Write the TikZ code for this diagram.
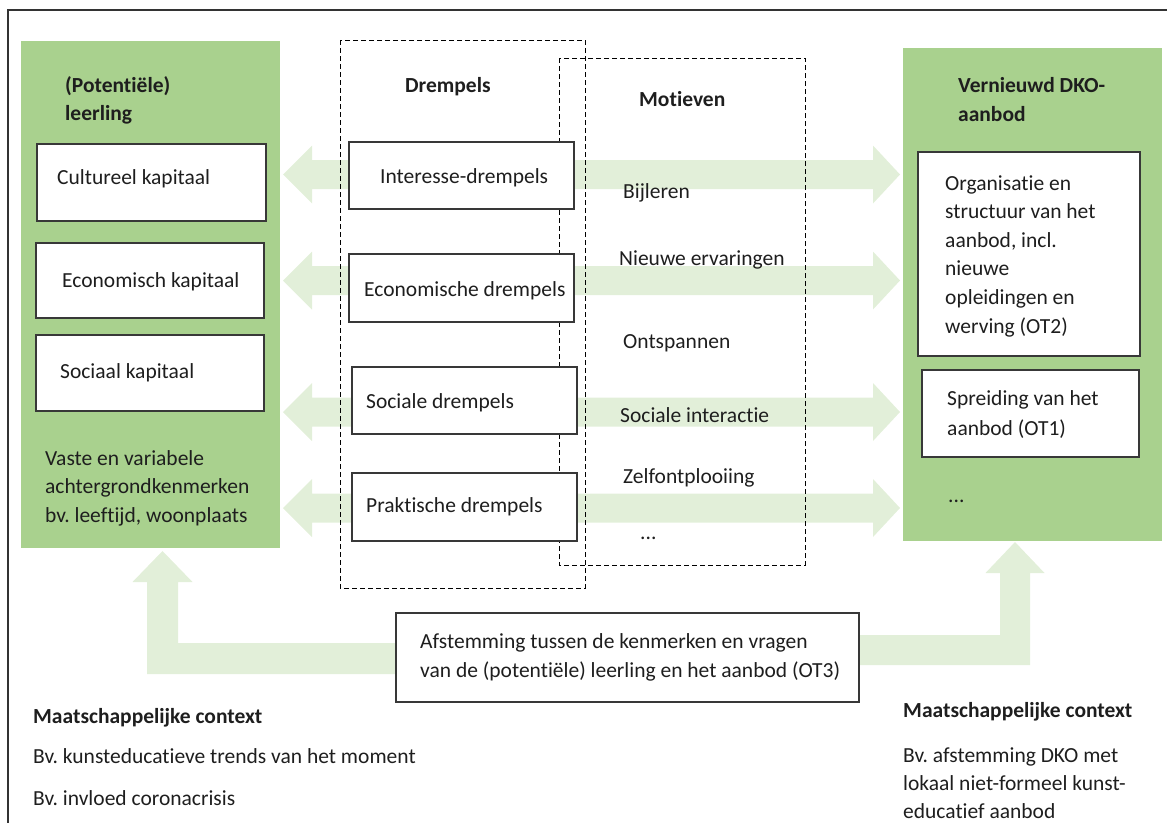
\documentclass[tikz,border=0pt]{standalone}
\usepackage{fontspec}
\setmainfont{Carlito}[Ligatures=NoCommon]
\frenchspacing
\definecolor{gbox}{HTML}{A9D18E}
\definecolor{garrow}{HTML}{E2EFD9}
\definecolor{ink}{HTML}{1E1E1E}
\begin{document}
\begin{tikzpicture}[x=1pt,y=-1pt,
  txt/.style={anchor=base west, inner sep=0pt, text=ink, align=left, font=\fontsize{21.5}{28.6}\selectfont},
  hd/.style={txt, font=\fontsize{21.5}{28.6}\selectfont\bfseries},
  wbox/.style={draw=black!78, line width=1.3pt, fill=white, anchor=north west, inner sep=0pt, outer sep=0pt},
  gpanel/.style={fill=gbox, anchor=north west, inner sep=0pt, outer sep=0pt},
  dbox/.style={draw=black, line width=1pt, dash pattern=on 5pt off 3pt},
  barrow/.style={fill=garrow}]
\useasboundingbox (0,0) rectangle (1167,822);
\clip (0,0) rectangle (1167,822);
% outer frame
\draw[black!80, line width=1.3pt] (8,860) -- (8,10) -- (1200,10);
% green panels
\node[gpanel, minimum width=259pt, minimum height=507pt] (lp) at (21,41) {};
\node[gpanel, minimum width=259pt, minimum height=493pt] (rp) at (903,48) {};
% double block arrows
\newcommand\dblarr[1]{\fill[barrow] (283,#1) -- (312,#1-29) -- (312,#1-14.5) -- (873,#1-14.5) -- (873,#1-29) -- (900,#1) -- (873,#1+29) -- (873,#1+14.5) -- (312,#1+14.5) -- (312,#1+29) -- cycle;}
\dblarr{174.5}
\dblarr{280.5}
\dblarr{412}
\dblarr{508}
% bent arrows
\fill[barrow] (400,643) -- (178,643) -- (178,582) -- (192.5,582) -- (162.5,551) -- (132.5,582) -- (147,582) -- (147,674) -- (400,674) -- cycle;
\fill[barrow] (855,635) -- (1000,635) -- (1000,573) -- (985.5,573) -- (1015,542) -- (1044.5,573) -- (1030,573) -- (1030,665) -- (855,665) -- cycle;
% dashed groups
\draw[dbox] (340,40) rectangle (585,588);
\draw[dbox] (559,58) rectangle (805,565);
% white boxes
\node[wbox, minimum width=229pt, minimum height=77pt] (cult) at (37,144) {};
\node[wbox, minimum width=228pt, minimum height=75pt] (econ) at (36,243) {};
\node[wbox, minimum width=228pt, minimum height=76pt] (soci) at (36,335) {};
\node[wbox, minimum width=225pt, minimum height=67pt] (ib) at (349,142) {};
\node[wbox, minimum width=225pt, minimum height=68pt] (eb) at (349,254) {};
\node[wbox, minimum width=225pt, minimum height=67pt] (sb) at (352,367) {};
\node[wbox, minimum width=225pt, minimum height=68pt] (pb) at (352,473) {};
\node[wbox, minimum width=222pt, minimum height=204pt] (org) at (918,152) {};
\node[wbox, minimum width=217pt, minimum height=87pt] (spr) at (922,370) {};
\node[wbox, minimum width=463pt, minimum height=89pt] (afst) at (396,613) {};
% texts (base anchor = baseline of the last line)
\node[hd] (tlp) at (65,120.6) {(Potentiële)\\leerling};
\node[txt] (tcult) at (57,184) {Cultureel kapitaal};
\node[txt] (tecon) at (62,287) {Economisch kapitaal};
\node[txt] (tsoci) at (60,378) {Sociaal kapitaal};
\node[txt] (tvaste) at (45,522.2) {Vaste en variabele\\achtergrondkenmerken\\bv. leeftijd, woonplaats};
\node[hd] (tdr) at (405,92) {Drempels};
\node[hd] (tmo) at (639,106) {Motieven};
\node[txt] (tib) at (380,183) {Interesse-drempels};
\node[txt] (teb) at (364,296) {Economische drempels};
\node[txt] (tsb) at (366,408) {Sociale drempels};
\node[txt] (tpb) at (366,512) {Praktische drempels};
\node[txt] (m1) at (623,198) {Bijleren};
\node[txt] (m2) at (619,265) {Nieuwe ervaringen};
\node[txt] (m3) at (623,348) {Ontspannen};
\node[txt] (m4) at (620,422) {Sociale interactie};
\node[txt] (m5) at (623,483) {Zelfontplooiing};
\node[txt] (m6) at (640,539) {...};
\node[hd] (trp) at (958,121) {Vernieuwd DKO-\\aanbod};
\node[txt] (torg) at (945,333) {Organisatie en\\structuur van het\\aanbod, incl.\\nieuwe\\opleidingen en\\werving (OT2)};
\node[txt, font=\fontsize{21.5}{29.5}\selectfont] (tspr) at (947,435) {Spreiding van het\\aanbod (OT1)};
\node[txt] (tdots) at (948,502) {...};
\node[txt, font=\fontsize{21.5}{29}\selectfont] (tafst) at (420,677) {Afstemming tussen de kenmerken en vragen\\van de (potentiële) leerling en het aanbod (OT3)};
\node[hd] (mcl) at (33,723) {Maatschappelijke context};
\node[txt] (mcl1) at (33,763) {Bv. kunsteducatieve trends van het moment};
\node[txt] (mcl2) at (33,805) {Bv. invloed coronacrisis};
\node[hd] (mcr) at (903,717) {Maatschappelijke context};
\node[txt, font=\fontsize{21.5}{28}\selectfont] (mcr1) at (903,818) {Bv. afstemming DKO met\\lokaal niet-formeel kunst-\\educatief aanbod};
\end{tikzpicture}
\end{document}
